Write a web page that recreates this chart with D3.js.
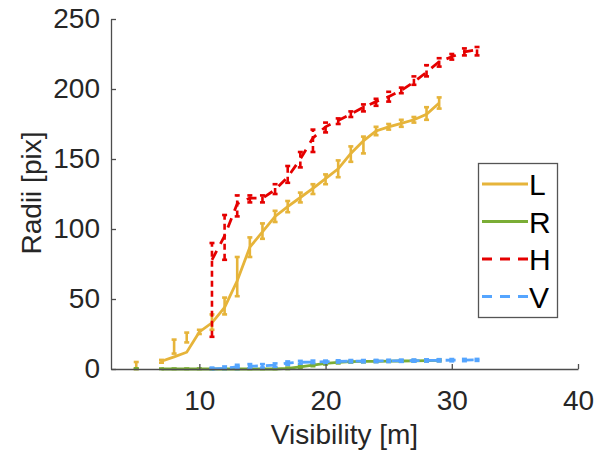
<!DOCTYPE html>
<html>
<head>
<meta charset="utf-8">
<script src="https://cdn.jsdelivr.net/npm/d3@7"></script>
<style>
  body { margin: 0; background: #fff; }
  text { font-family: "Liberation Sans", Arial, sans-serif; }
</style>
</head>
<body>
<div id="chart"></div>
<script>
// visibility [m]
var visibility = [5, 6, 7, 8, 9, 10, 11, 12, 13, 14, 15, 16, 17, 18, 19, 20, 21, 22, 23, 24, 25, 26, 27, 28, 29, 30, 31, 32];

// L
var lVal = [2, null, 5.5, 8.7, 12, 26.5, 33, 44, 63, 87, 98, 109, 116, 122.5, 129, 136, 143, 154, 163, 170, 173, 175.5, 178, 182, 190, null, null, null];
var lLo  = [0, null, 4.5, 11, 19, 25, 28, 39, 52, 80, 93, 105, 112, 119, 125, 132, 137, 148, 154, 167, 171, 173, 176, 178, 186, null, null, null];
var lHi  = [5, null, 6.5, 21, 26, 28, 39, 51, 80, 94, 104, 113, 120, 126, 132, 139, 149, 159, 166, 173, 175, 178, 180, 187, 194, null, null, null];

// R
var rVal = [0, null, 0, 0, 0, 0, 0, 0, 0, 0, 0, 0, 0.5, 1.5, 2.8, 4, 4.8, 5.2, 5.4, 5.5, 5.6, 5.7, 5.8, 6, 6.2, null, null, null];
var rLo  = [0, null, 0, 0, 0, 0, 0, 0, 0, 0, 0, 0, 0, 0.8, 2, 3.2, 4, 4.6, 4.8, 5, 5.1, 5.2, 5.3, 5.5, 5.6, null, null, null];
var rHi  = [0.5, null, 0.3, 0.3, 0.3, 0.3, 0.3, 0.3, 0.3, 0.3, 0.4, 0.6, 1, 2.2, 3.6, 4.8, 5.6, 5.8, 6, 6, 6.1, 6.2, 6.3, 6.5, 6.8, null, null, null];

// H
var hVal = [null, null, null, null, null, null, 78, 95, 118, 122, 122, 128, 137, 150, 165, 173, 177.5, 182, 187, 191, 194.5, 199, 205, 212, 219.5, 223, 226.5, 228];
var hLo  = [null, null, null, null, null, null, 23, 78, 109, 119, 119, 125, 133, 144, 155, 169, 175, 180, 184, 188, 191, 197, 203, 209, 216, 221, 224, 224];
var hHi  = [null, null, null, null, null, null, 90, 110, 124, 124, 124, 132, 145, 155, 171, 176, 179, 184, 189, 193, 198, 201, 209, 217, 222, 225, 229, 230];

// V
var vVal = [null, null, null, null, null, null, 0, 0.5, 1.5, 2, 2.2, 2.8, 4.2, 4.8, 5, 5.2, 5.4, 5.6, 5.6, 5.7, 5.8, 5.9, 6, 6.1, 6.2, 6.3, 6.4, 6.5];
var vLo  = [null, null, null, null, null, null, 0, 0, 0, 0.5, 1, 1.5, 3, 3.8, 4.2, 4.4, 4.6, 4.8, 4.8, 4.9, 5, 5.1, 5.2, 5.3, 5.4, 5.5, 5.6, 5.8];
var vHi  = [null, null, null, null, null, null, 1, 1.8, 3, 3.5, 3.5, 4, 5.4, 5.8, 6, 6, 6.2, 6.4, 6.4, 6.5, 6.6, 6.7, 6.8, 6.9, 7, 7.1, 7.2, 7.2];

var xTicks = [10, 20, 30, 40];
var yTicks = [0, 50, 100, 150, 200, 250];

var series = [
    { name: "L", vals: lVal, lo: lLo, hi: lHi, color: "#e6b43a", dash: null },
    { name: "R", vals: rVal, lo: rLo, hi: rHi, color: "#7aad35", dash: null },
    { name: "H", vals: hVal, lo: hLo, hi: hHi, color: "#e50000", dash: "10,8" },
    { name: "V", vals: vVal, lo: vLo, hi: vHi, color: "#55a5ff", dash: "10,8" }
];

var width = 608, height = 458;
var plot = { left: 111, right: 578, top: 19, bottom: 369 };
var capHalf = 2.5;

var svg = d3.select("#chart").append("svg")
    .attr("width", width)
    .attr("height", height);

var x = d3.scaleLinear().domain([3, 40]).range([plot.left, plot.right]);
var y = d3.scaleLinear().domain([0, 250]).range([plot.bottom, plot.top]);

var line = d3.line()
    .defined(function (d) { return d.v !== null; })
    .x(function (d) { return x(d.x); })
    .y(function (d) { return y(d.v); });

series.forEach(function (s) {
    var pts = visibility.map(function (vx, i) {
        return { x: vx, v: s.vals[i], lo: s.lo[i], hi: s.hi[i] };
    });
    var g = svg.append("g").attr("class", "series");

    g.append("path")
        .datum(pts)
        .attr("d", line)
        .attr("fill", "none")
        .attr("stroke", s.color)
        .attr("stroke-width", 2.8)
        .attr("stroke-dasharray", s.dash);

    var bars = g.selectAll(".bar")
        .data(pts.filter(function (d) { return d.v !== null; }))
        .enter().append("g").attr("class", "bar");

    // vertical bar + small caps
    bars.append("line")
        .attr("x1", function (d) { return x(d.x); })
        .attr("x2", function (d) { return x(d.x); })
        .attr("y1", function (d) { return y(d.lo); })
        .attr("y2", function (d) { return y(d.hi); });
    bars.append("line")
        .attr("x1", function (d) { return x(d.x) - capHalf; })
        .attr("x2", function (d) { return x(d.x) + capHalf; })
        .attr("y1", function (d) { return y(d.lo); })
        .attr("y2", function (d) { return y(d.lo); });
    bars.append("line")
        .attr("x1", function (d) { return x(d.x) - capHalf; })
        .attr("x2", function (d) { return x(d.x) + capHalf; })
        .attr("y1", function (d) { return y(d.hi); })
        .attr("y2", function (d) { return y(d.hi); });
    bars.selectAll("line")
        .attr("stroke", s.color)
        .attr("stroke-width", 2.6)
        .attr("stroke-dasharray", s.dash ? "6,4" : null);
});

// axes
var xAxis = d3.axisBottom(x).tickValues(xTicks).tickSizeInner(-5).tickSizeOuter(0).tickPadding(21);
var yAxis = d3.axisLeft(y).tickValues(yTicks).tickSizeInner(-5).tickSizeOuter(0).tickPadding(11);

var gx = svg.append("g").attr("transform", "translate(0," + plot.bottom + ")").call(xAxis);
var gy = svg.append("g").attr("transform", "translate(" + plot.left + ",0)").call(yAxis);

[gx, gy].forEach(function (g) {
    g.select(".domain").attr("stroke", "#4d4d4d").attr("stroke-width", 1.3);
    g.selectAll(".tick line").attr("stroke", "#4d4d4d").attr("stroke-width", 1.3);
    g.selectAll(".tick text")
        .attr("fill", "#262626")
        .style("font-size", "28px")
        .style("font-family", "'Liberation Sans', Arial, sans-serif");
});

svg.append("text")
    .attr("x", (plot.left + plot.right) / 2)
    .attr("y", 444)
    .attr("text-anchor", "middle")
    .attr("fill", "#262626")
    .style("font-size", "28px")
    .text("Visibility [m]");

svg.append("text")
    .attr("transform", "translate(41," + 193 + ") rotate(-90)")
    .attr("text-anchor", "middle")
    .attr("fill", "#262626")
    .style("font-size", "28px")
    .text("Radii [pix]");

// legend
var legend = svg.append("g").attr("class", "legend");
legend.append("rect")
    .attr("x", 478.5).attr("y", 163.5)
    .attr("width", 79).attr("height", 154)
    .attr("fill", "#fff")
    .attr("stroke", "#555")
    .attr("stroke-width", 1.3);

var items = legend.selectAll(".item")
    .data(series)
    .enter().append("g")
    .attr("class", "item")
    .attr("transform", function (d, i) { return "translate(0," + (184 + i * 37.5) + ")"; });

items.append("line")
    .attr("x1", 482).attr("x2", 528)
    .attr("y1", 0).attr("y2", 0)
    .attr("stroke", function (d) { return d.color; })
    .attr("stroke-width", 3)
    .attr("stroke-dasharray", function (d) { return d.dash; });

items.append("text")
    .attr("x", 529)
    .attr("y", 11)
    .attr("fill", "#000")
    .style("font-size", "30px")
    .text(function (d) { return d.name; });
</script>
</body>
</html>
